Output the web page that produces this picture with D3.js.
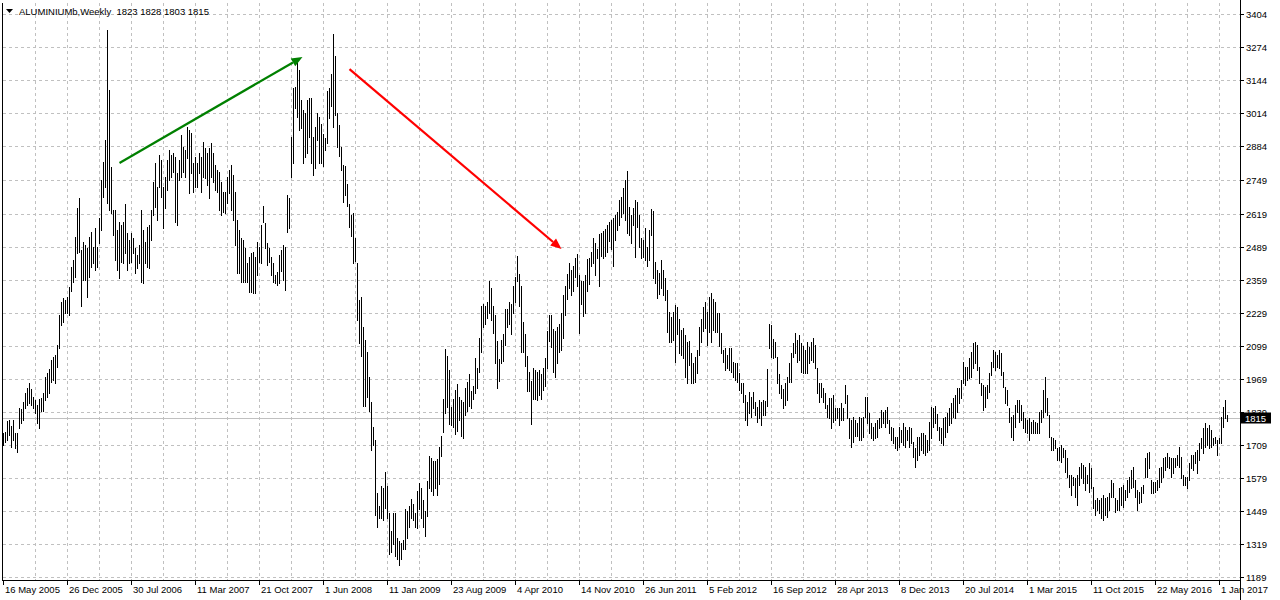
<!DOCTYPE html>
<html><head><meta charset="utf-8">
<script src="https://cdn.jsdelivr.net/npm/d3@7/dist/d3.min.js"></script>
<style>html,body{margin:0;padding:0;background:#fff;overflow:hidden}svg{display:block;font-family:"Liberation Sans",Arial,sans-serif}</style>
</head><body><div id="chart"></div>
<script>
const symbolTitle = "ALUMINIUMb,Weekly";
const lastOHLC = [1823, 1828, 1803, 1815];
const highs = [
1755,1759,1803,1807,1783,1807,1755,1755,1854,1850,1877,1913,1933,1952,1929,1897,1885,1866,1889,1893,
1913,1976,1991,2007,2043,2055,2062,2102,2220,2271,2287,2279,2291,2330,2409,2436,2526,2641,2680,2475,
2507,2495,2483,2526,2546,2487,2562,2487,2601,2751,
2822,2908,3341,3105,2802,2633,2633,2554,2586,2574,2586,2657,2542,2515,2542,2523,2483,2456,2495,2633,
2554,2507,2566,2574,2633,2743,2818,2724,2849,2830,2724,2763,2830,2869,2849,2857,2841,2778,2830,2928,
2881,2869,2959,2948,2936,2818,2841,2818,2857,2841,
2900,2877,2857,2877,2896,2857,2810,2790,2782,2743,2704,2704,2763,2790,2810,2771,2704,2594,2554,2523,
2515,2483,2424,2448,2464,2468,2448,2507,2487,2574,2649,2582,2503,2483,2448,2424,2377,2389,2456,2475,
2495,2487,2692,2680,2920,3113,3117,3215,3184,3066,
3026,3014,3066,3073,3073,2920,2959,3014,2999,2971,2932,2916,3101,3113,3168,3325,3239,3014,2967,2881,
2810,2806,2735,2657,2613,2621,2523,2424,2279,2291,2173,2121,2074,1976,1877,1779,1728,1519,1468,1547,
1539,1602,1547,1441,1370,1441,1441,1342,1331,1323,
1335,1456,1449,1468,1496,1476,1441,1527,1559,1539,1492,1449,1567,1665,1657,1645,1645,1653,1700,1744,
1889,2086,2058,2003,1858,1889,1925,1948,1897,1885,1877,1933,1956,1988,1921,1940,2051,2011,2129,2255,
2263,2255,2271,2354,2326,2255,2220,2117,2047,2121,
2145,2243,2243,2271,2263,2334,2369,2452,2381,2334,2192,2145,2058,1996,1960,2011,2003,1996,2003,1988,
2011,2051,2157,2220,2220,2165,2157,2173,2184,2228,2298,2334,2381,2424,2397,2413,2444,2460,2377,2353,
2353,2377,2440,2444,2468,2523,2503,2479,2538,2542,
2550,2558,2574,2586,2594,2601,2613,2625,2672,2684,2719,2751,2786,2645,2613,2641,2672,2664,2613,2523,
2515,2562,2487,2554,2637,2629,2428,2397,2385,2436,2397,2365,2318,2232,2212,2232,2259,2251,2204,2161,
2169,2141,2113,2117,2070,2031,2054,2082,2173,2204,
2251,2271,2231,2290,2306,2283,2271,2227,2227,2149,2082,2090,2062,2090,2090,2035,2031,2031,1991,1952,
1952,1905,1877,1917,1897,1917,1877,1857,1885,1877,1885,1881,2007,2184,2180,2126,2113,2054,1987,1944,
1929,1952,1975,2031,2070,2109,2149,2121,2141,2109,
2097,2082,2113,2093,2113,2129,2101,2011,1952,1952,1933,1913,1866,1893,1893,1905,1854,1854,1854,1873,
1854,1944,1905,1815,1807,1818,1807,1795,1818,1815,1818,1897,1897,1834,1795,1779,1795,1807,1815,1846,
1838,1846,1858,1807,1779,1775,1740,1740,1779,1767,
1795,1779,1767,1779,1775,1720,1697,1740,1740,1755,1755,1747,1728,1799,1858,1854,1862,1830,1779,1775,
1815,1818,1834,1854,1873,1893,1905,1933,1933,1964,2035,2015,2015,2051,2074,2109,2113,2101,2015,1952,
1944,1936,1944,1991,2035,2082,2074,2062,2082,2070,
1995,1936,1925,1854,1818,1826,1866,1885,1885,1866,1838,1815,1807,1815,1799,1807,1799,1795,1838,1846,
1925,1976,1893,1826,1740,1736,1728,1697,1700,1708,1697,1689,1657,1590,1590,1582,1578,1590,1622,1637,
1630,1622,1590,1637,1618,1543,1492,1500,1492,1500,
1512,1500,1504,1519,1571,1559,1500,1492,1539,1543,1551,1531,1571,1582,1610,1622,1571,1531,1523,1543,
1551,1657,1677,1681,1571,1563,1563,1571,1618,1622,1657,1661,1677,1661,1657,1657,1657,1669,1700,1661,
1590,1582,1582,1637,1669,1669,1681,1689,1716,1736,
1775,1795,1775,1787,1767,1736,1740,1728,1736,1818,1858,1885,1828];
const lows = [
1708,1720,1728,1747,1700,1728,1697,1681,1775,1795,1807,1854,1866,1873,1866,1854,1834,1795,1775,1842,
1842,1885,1897,1913,1956,1964,1952,2015,2090,2181,2192,2228,2228,2220,2314,2349,2369,2464,2468,2255,
2357,2357,2291,2369,2409,2424,2397,2409,2503,2554,
2684,2723,2660,2633,2621,2535,2436,2397,2365,2428,2424,2464,2397,2424,2428,2464,2385,2405,2424,2349,
2346,2424,2409,2405,2515,2613,2645,2594,2724,2684,2562,2641,2712,2751,2763,2782,2586,2574,2751,2763,
2782,2763,2837,2700,2778,2704,2724,2724,2778,2704,
2763,2759,2731,2680,2763,2743,2712,2704,2633,2613,2625,2621,2660,2700,2633,2594,2495,2385,2385,2349,
2349,2349,2349,2310,2310,2306,2306,2377,2428,2424,2586,2483,2416,2428,2377,2349,2346,2338,2346,2393,
2357,2318,2546,2562,2763,2818,3034,2999,2948,2955,
2818,2841,2857,2920,2818,2771,2798,2908,2818,2818,2806,2869,2896,2995,3042,2959,3006,2881,2845,2790,
2664,2692,2649,2566,2531,2424,2432,2200,2110,2058,1862,1862,1897,1842,1689,1708,1433,1386,1421,1421,
1413,1460,1421,1280,1287,1319,1272,1260,1236,1260,
1299,1299,1342,1386,1421,1413,1386,1382,1456,1421,1386,1350,1429,1539,1527,1512,1539,1512,1555,1665,
1759,1834,1858,1791,1787,1779,1751,1763,1807,1744,1736,1826,1842,1862,1854,1889,1913,1933,1996,2074,
2173,2184,2208,2228,2200,2149,2031,1933,1960,2031,
2039,2102,2173,2184,2145,2228,2271,2353,2255,2074,2074,2019,1921,1921,1791,1889,1889,1885,1905,1889,
1925,1940,2011,2117,2094,1996,1976,2031,2074,2082,2129,2220,2283,2326,2298,2314,2369,2334,2149,2263,
2216,2228,2314,2342,2413,2424,2377,2444,2334,2452,
2444,2452,2468,2511,2479,2413,2515,2554,2574,2605,2621,2594,2542,2535,2503,2574,2448,2566,2487,2444,
2448,2436,2413,2436,2535,2365,2346,2287,2302,2326,2298,2279,2153,2113,2113,2121,2035,2145,2070,2062,
2051,1976,1952,2023,1952,1952,1956,1991,2062,2113,
2157,2169,2101,2153,2113,2161,2153,2153,2097,2070,2035,2003,2012,2003,1995,1975,1964,1956,1925,1913,
1877,1807,1787,1834,1818,1854,1826,1799,1815,1787,1826,1826,1861,2090,2054,2051,2054,1952,1913,1894,
1854,1865,1885,1956,1956,2054,2070,2035,2043,1995,
1991,1991,1991,2031,2043,2035,2011,1913,1877,1897,1877,1854,1818,1815,1775,1799,1807,1815,1787,1807,
1807,1873,1815,1736,1700,1720,1744,1744,1728,1728,1740,1818,1795,1755,1736,1728,1736,1740,1775,1779,
1795,1779,1795,1755,1728,1716,1697,1689,1700,1720,
1708,1700,1728,1700,1716,1661,1622,1649,1669,1689,1677,1669,1681,1689,1736,1779,1795,1767,1728,1716,
1708,1740,1759,1787,1795,1818,1815,1838,1873,1893,1952,1944,1964,1972,1976,2011,2031,2003,1952,1905,
1846,1858,1893,1917,1983,2015,2003,2015,2011,1983,
1936,1873,1866,1799,1740,1728,1779,1838,1799,1807,1775,1759,1755,1728,1755,1755,1755,1755,1755,1799,
1818,1838,1826,1740,1689,1689,1697,1649,1649,1641,1661,1602,1582,1543,1512,1551,1504,1472,1551,1578,
1559,1531,1559,1523,1539,1460,1433,1453,1441,1421,
1413,1433,1425,1453,1504,1504,1445,1453,1453,1472,1464,1492,1504,1523,1539,1543,1504,1453,1480,1484,
1519,1582,1582,1618,1519,1519,1523,1531,1543,1563,1582,1610,1622,1618,1582,1598,1622,1630,1622,1578,
1551,1551,1539,1571,1618,1610,1637,1598,1649,1697,
1677,1700,1708,1697,1700,1708,1716,1669,1716,1716,1779,1815,1803];
const priceTicks = [3404,3274,3144,3014,2884,2749,2619,2489,2359,2229,2099,1969,1839,1709,1579,1449,1319,1189];
const dateLabels = ["16 May 2005","26 Dec 2005","30 Jul 2006","11 Mar 2007","21 Oct 2007","1 Jun 2008","11 Jan 2009","23 Aug 2009","4 Apr 2010","14 Nov 2010","26 Jun 2011","5 Feb 2012","16 Sep 2012","28 Apr 2013","8 Dec 2013","20 Jul 2014","1 Mar 2015","11 Oct 2015","22 May 2016","1 Jan 2017"];
const barsPerLabel = 32;
const barsPerGrid = 16;
const trendArrows = [
  {fromBar:58, fromPrice:2818, toBar:149.5, toPrice:3235, color:"#008000"},
  {fromBar:173, fromPrice:3187, toBar:279, toPrice:2479, color:"#ff0000"}
];

const W = 1280, H = 600;
const plotL = 2, plotR = 1240, plotB = 580;
const n = Math.min(highs.length, lows.length);
const x = d3.scaleLinear().domain([0, 612]).range([3.5, 1227.5]);
const y = d3.scaleLinear().domain([1189, 3404]).range([577, 14]);

const svg = d3.select("#chart").append("svg").attr("width", W).attr("height", H);
svg.append("rect").attr("width", W).attr("height", H).attr("fill", "#fff");

const grid = svg.append("g").attr("stroke", "#c0c0c0").attr("stroke-width", 1).attr("stroke-dasharray", "3,3").attr("fill","none");
priceTicks.forEach(v => {
  const yy = Math.round(y(v)) + 0.5;
  grid.append("line").attr("x1", plotL + 1).attr("x2", plotR).attr("y1", yy).attr("y2", yy);
});
for (let b = barsPerGrid; x(b) < plotR; b += barsPerGrid) {
  const xx = Math.round(x(b) - 0.5) + 0.5;
  grid.append("line").attr("x1", xx).attr("x2", xx).attr("y1", 3).attr("y2", plotB);
}

// last price line
const yLast = Math.round(y(lastOHLC[3])) + 0.5;
svg.append("line").attr("x1", plotL + 1).attr("x2", plotR).attr("y1", yLast).attr("y2", yLast).attr("stroke", "#c0c0c0");

// bars
const barIdx = d3.range(n);
svg.append("g").selectAll("rect").data(barIdx).join("rect")
  .attr("x", i => Math.round(x(i) - 0.5))
  .attr("y", i => Math.round(y(highs[i])))
  .attr("width", 1)
  .attr("height", i => Math.max(1, Math.round(y(lows[i])) - Math.round(y(highs[i])) + 1))
  .attr("fill", "#000");

// arrows
trendArrows.forEach(a => {
  const x1 = x(a.fromBar), y1 = y(a.fromPrice), x2 = x(a.toBar), y2 = y(a.toPrice);
  const ang = Math.atan2(y2 - y1, x2 - x1);
  const L = 11, hw = 4.5;
  const bx = x2 - L * Math.cos(ang), by = y2 - L * Math.sin(ang);
  svg.append("line").attr("x1", x1).attr("y1", y1).attr("x2", bx).attr("y2", by)
    .attr("stroke", a.color).attr("stroke-width", 2.2);
  const px = -Math.sin(ang), py = Math.cos(ang);
  svg.append("polygon").attr("points", [[x2, y2], [bx + px * hw, by + py * hw], [bx - px * hw, by - py * hw]].map(p => p.join(",")).join(" "))
    .attr("fill", a.color);
});

// frame / axes
svg.append("line").attr("x1", plotL + 0.5).attr("x2", plotL + 0.5).attr("y1", 3).attr("y2", plotB + 0.5).attr("stroke", "#000");
svg.append("line").attr("x1", plotR + 0.5).attr("x2", plotR + 0.5).attr("y1", 0).attr("y2", H).attr("stroke", "#000");
svg.append("line").attr("x1", plotL).attr("x2", plotR + 1).attr("y1", plotB + 0.5).attr("y2", plotB + 0.5).attr("stroke", "#000");

const fs = "9.5px";
// price axis
priceTicks.forEach(v => {
  const yy = Math.round(y(v)) + 0.5;
  svg.append("line").attr("x1", plotR + 1).attr("x2", plotR + 4).attr("y1", yy).attr("y2", yy).attr("stroke", "#000");
  svg.append("text").attr("x", plotR + 6).attr("y", yy + 3.5).attr("font-size", fs).attr("fill", "#000").text(v);
});
// last price box
svg.append("rect").attr("x", plotR + 1).attr("y", yLast - 6).attr("width", 30).attr("height", 11).attr("fill", "#000");
svg.append("text").attr("x", plotR + 5).attr("y", yLast + 3.5).attr("font-size", fs).attr("fill", "#fff").text(lastOHLC[3]);

// time axis
dateLabels.forEach((t, k) => {
  const xx = Math.round(x(k * barsPerLabel) - 0.5) + 0.5;
  svg.append("line").attr("x1", xx).attr("x2", xx).attr("y1", plotB).attr("y2", plotB + 5).attr("stroke", "#000");
  svg.append("text").attr("x", xx + 1.5).attr("y", plotB + 13).attr("font-size", fs).attr("fill", "#000").text(t);
});

// title
svg.append("polygon").attr("points", "6,9 13,9 9.5,13").attr("fill", "#000");
svg.append("text").attr("x", 19).attr("y", 15).attr("font-size", fs).attr("fill", "#000")
  .style("white-space", "pre").text(symbolTitle + "  " + lastOHLC.join(" "));
</script></body></html>
